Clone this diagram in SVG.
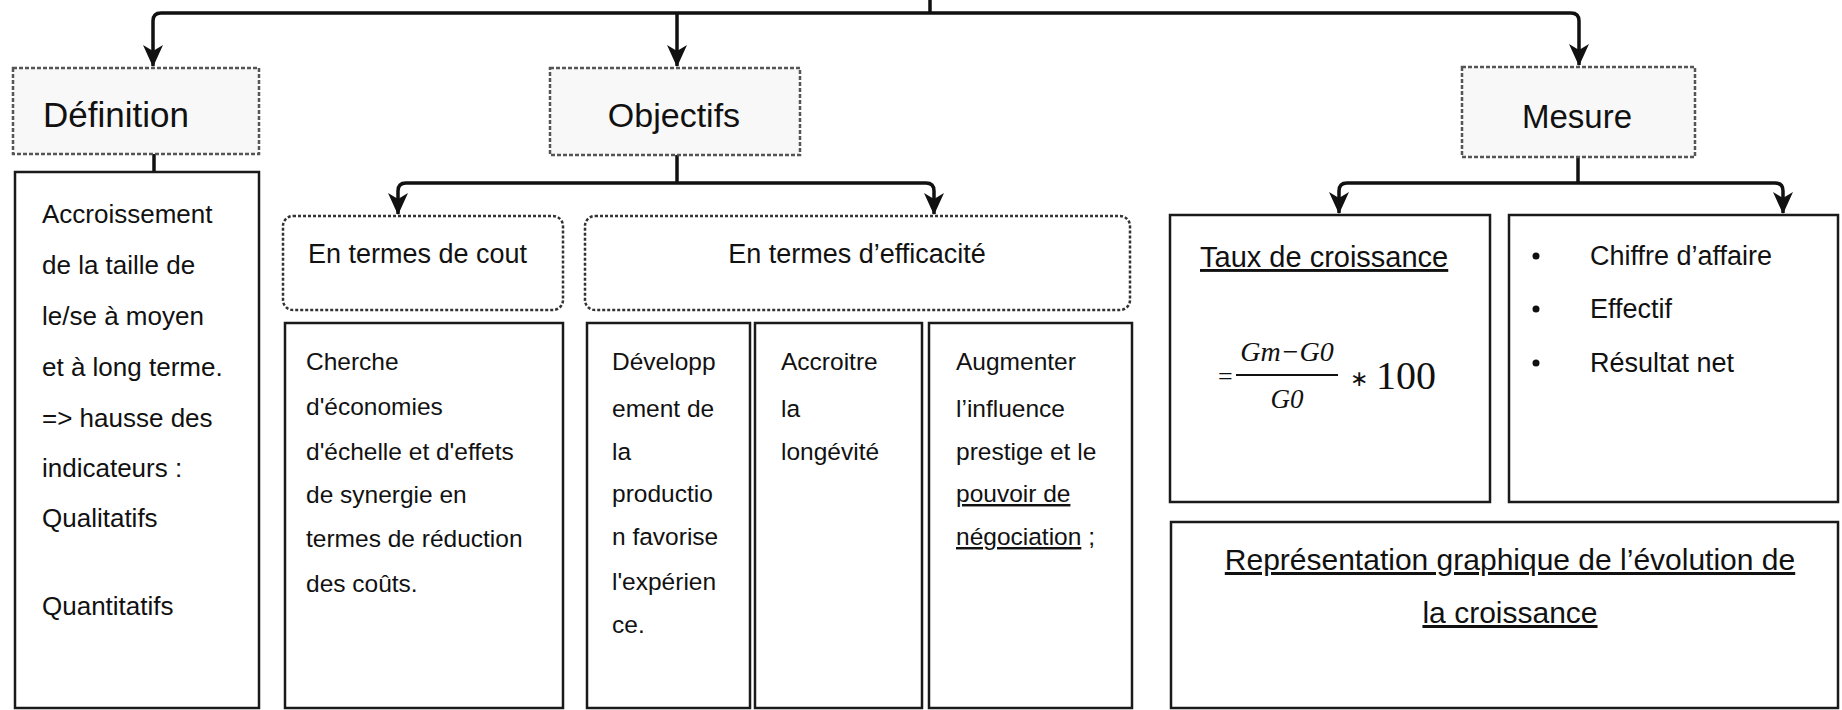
<svg xmlns="http://www.w3.org/2000/svg" width="1842" height="710" viewBox="0 0 1842 710">
<defs>
<marker id="arr" markerUnits="userSpaceOnUse" markerWidth="22" markerHeight="20" refX="21" refY="10" orient="auto">
<path d="M0,0 L22,10 L0,20 L6,10 z" fill="#111"/>
</marker>
<style>
.bg{fill:#fff}
.head{fill:#f8f8f8;stroke:#555;stroke-width:2.5;stroke-dasharray:4 2}
.sub{fill:#fff;stroke:#333;stroke-width:2.5;stroke-dasharray:3 2}
.box{fill:#fff;stroke:#1a1a1a;stroke-width:2.5}
.conn{fill:none;stroke:#111;stroke-width:3.5}
.t{font-family:"Liberation Sans",Arial,sans-serif;fill:#111}
.h{font-size:34px}
.b{font-size:24.5px}
.d{font-size:26px}
.s{font-size:27px}
.u{text-decoration:underline}
.m{font-family:"Liberation Serif","Times New Roman",serif;fill:#111}
</style>
</defs>
<rect class="bg" x="0" y="0" width="1842" height="710"/>

<g id="connectors">
<path class="conn" d="M930,0 L930,13"/>
<path class="conn" d="M930,13 L161,13 Q153,13 153,21 L153,66" marker-end="url(#arr)"/>
<path class="conn" d="M930,13 L1571,13 Q1579,13 1579,21 L1579,65" marker-end="url(#arr)"/>
<path class="conn" d="M677,13 L677,66" marker-end="url(#arr)"/>
<path class="conn" d="M154,154 L154,172"/>
<path class="conn" d="M677,155 L677,183"/>
<path class="conn" d="M677,183 L406,183 Q398,183 398,191 L398,214" marker-end="url(#arr)"/>
<path class="conn" d="M677,183 L926,183 Q934,183 934,191 L934,214" marker-end="url(#arr)"/>
<path class="conn" d="M1578,157 L1578,183"/>
<path class="conn" d="M1578,183 L1347,183 Q1339,183 1339,191 L1339,213" marker-end="url(#arr)"/>
<path class="conn" d="M1578,183 L1775,183 Q1783,183 1783,191 L1783,213" marker-end="url(#arr)"/>
</g>

<g id="definition">
<rect class="head" x="13" y="68" width="246" height="86"/>
<text class="t" x="43" y="127" font-size="35">Définition</text>
</g>

<g id="definition-body">
<rect class="box" x="15" y="172" width="244" height="536"/>
<text class="t d" x="42" y="223">Accroissement</text>
<text class="t d" x="42" y="274">de la taille de</text>
<text class="t d" x="42" y="325">le/se à moyen</text>
<text class="t d" x="42" y="376">et à long terme.</text>
<text class="t d" x="42" y="427">=&gt; hausse des</text>
<text class="t d" x="42" y="477">indicateurs :</text>
<text class="t d" x="42" y="527">Qualitatifs</text>
<text class="t d" x="42" y="615">Quantitatifs</text>
</g>

<g id="objectifs">
<rect class="head" x="550" y="68" width="250" height="87"/>
<text class="t h" x="674" y="127" text-anchor="middle">Objectifs</text>
</g>

<g id="cout">
<rect class="sub" x="283" y="216" width="280" height="94" rx="10"/>
<text class="t s" x="308" y="263">En termes de cout</text>
</g>

<g id="efficacite">
<rect class="sub" x="585" y="216" width="545" height="94" rx="10"/>
<text class="t s" x="857" y="263" text-anchor="middle">En termes d’efficacité</text>
</g>

<g id="cout-body">
<rect class="box" x="285" y="323" width="278" height="385"/>
<text class="t b" x="306" y="370">Cherche</text>
<text class="t b" x="306" y="415">d'économies</text>
<text class="t b" x="306" y="460">d'échelle et d'effets</text>
<text class="t b" x="306" y="503">de synergie en</text>
<text class="t b" x="306" y="547">termes de réduction</text>
<text class="t b" x="306" y="592">des coûts.</text>
</g>

<g id="eff-developpement">
<rect class="box" x="587" y="323" width="163" height="385"/>
<text class="t b" x="612" y="370">Développ</text>
<text class="t b" x="612" y="417">ement de</text>
<text class="t b" x="612" y="460">la</text>
<text class="t b" x="612" y="502">productio</text>
<text class="t b" x="612" y="545">n favorise</text>
<text class="t b" x="612" y="590">l'expérien</text>
<text class="t b" x="612" y="633">ce.</text>
</g>

<g id="eff-longevite">
<rect class="box" x="755" y="323" width="167" height="385"/>
<text class="t b" x="781" y="370">Accroitre</text>
<text class="t b" x="781" y="417">la</text>
<text class="t b" x="781" y="460">longévité</text>
</g>

<g id="eff-influence">
<rect class="box" x="929" y="323" width="203" height="385"/>
<text class="t b" x="956" y="370">Augmenter</text>
<text class="t b" x="956" y="417">l’influence</text>
<text class="t b" x="956" y="460">prestige et le</text>
<text class="t b u" x="956" y="502">pouvoir de</text>
<text class="t b" x="956" y="545"><tspan class="u">négociation</tspan> ;</text>
</g>

<g id="mesure">
<rect class="head" x="1462" y="67" width="233" height="90"/>
<text class="t" x="1577" y="128" font-size="33" text-anchor="middle">Mesure</text>
</g>

<g id="taux">
<rect class="box" x="1170" y="215" width="320" height="287"/>
<text class="t u" x="1200" y="267" font-size="29">Taux de croissance</text>
<text class="m" x="1218" y="385" font-size="26">=</text>
<text class="m" x="1287" y="361" font-size="28" font-style="italic" text-anchor="middle">Gm−G0</text>
<line x1="1236" y1="375" x2="1338" y2="375" stroke="#111" stroke-width="2"/>
<text class="m" x="1287" y="408" font-size="27" font-style="italic" text-anchor="middle">G0</text>
<text class="m" x="1350" y="386" font-size="22">∗</text>
<text class="m" x="1376" y="389" font-size="40">100</text>
</g>

<g id="indicateurs">
<rect class="box" x="1509" y="215" width="329" height="287"/>
<circle cx="1536" cy="256" r="3.5" fill="#111"/>
<circle cx="1536" cy="309" r="3.5" fill="#111"/>
<circle cx="1536" cy="363" r="3.5" fill="#111"/>
<text class="t s" x="1590" y="265">Chiffre d’affaire</text>
<text class="t s" x="1590" y="318">Effectif</text>
<text class="t s" x="1590" y="372">Résultat net</text>
</g>

<g id="representation">
<rect class="box" x="1171" y="522" width="667" height="186"/>
<text class="t u" x="1510" y="570" font-size="30" text-anchor="middle">Représentation graphique de l’évolution de</text>
<text class="t u" x="1510" y="623" font-size="30" text-anchor="middle">la croissance</text>
</g>
</svg>
